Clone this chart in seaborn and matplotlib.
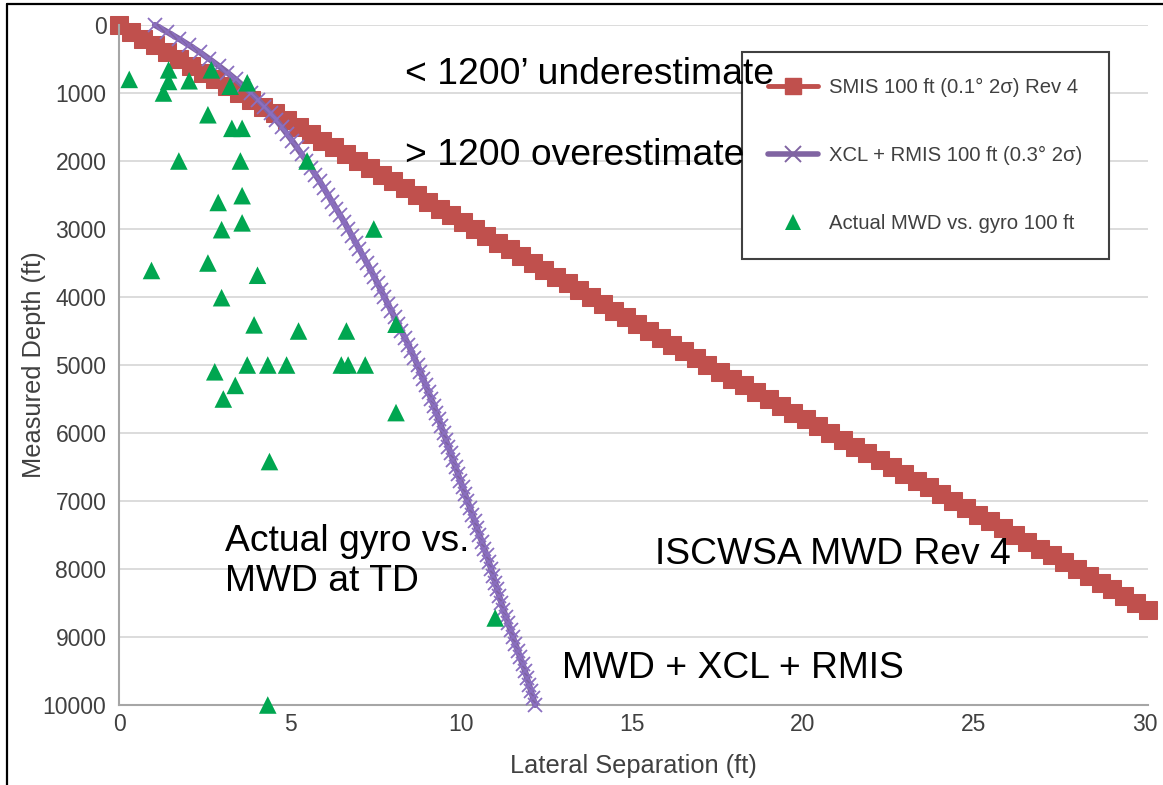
import matplotlib
matplotlib.use("Agg")
import matplotlib.pyplot as plt
from matplotlib.lines import Line2D
import seaborn as sns
import pandas as pd

# SMIS 100 ft (0.1 deg 2-sigma) Rev 4 model: survey stations and lateral separation
smis_depth = [0, 100, 200, 300, 400, 500, 600, 700, 800, 900,
              1000, 1100, 1200, 1300, 1400, 1500, 1600, 1700, 1800, 1900,
              2000, 2100, 2200, 2300, 2400, 2500, 2600, 2700, 2800, 2900,
              3000, 3100, 3200, 3300, 3400, 3500, 3600, 3700, 3800, 3900,
              4000, 4100, 4200, 4300, 4400, 4500, 4600, 4700, 4800, 4900,
              5000, 5100, 5200, 5300, 5400, 5500, 5600, 5700, 5800, 5900,
              6000, 6100, 6200, 6300, 6400, 6500, 6600, 6700, 6800, 6900,
              7000, 7100, 7200, 7300, 7400, 7500, 7600, 7700, 7800, 7900,
              8000, 8100, 8200, 8300, 8400, 8500, 8600]
smis_sep = [0.00, 0.35, 0.70, 1.05, 1.40, 1.75, 2.10, 2.45, 2.80, 3.15,
            3.50, 3.85, 4.20, 4.55, 4.90, 5.25, 5.60, 5.95, 6.30, 6.65,
            7.00, 7.34, 7.68, 8.02, 8.36, 8.70, 9.04, 9.38, 9.72, 10.06,
            10.40, 10.74, 11.08, 11.42, 11.76, 12.10, 12.44, 12.78, 13.12, 13.46,
            13.80, 14.14, 14.48, 14.82, 15.16, 15.50, 15.84, 16.18, 16.52, 16.86,
            17.20, 17.56, 17.92, 18.28, 18.64, 19.00, 19.36, 19.72, 20.08, 20.44,
            20.80, 21.16, 21.52, 21.88, 22.24, 22.60, 22.96, 23.32, 23.68, 24.04,
            24.40, 24.76, 25.12, 25.48, 25.84, 26.20, 26.56, 26.92, 27.28, 27.64,
            28.00, 28.35, 28.70, 29.05, 29.40, 29.75, 30.10]

# XCL + RMIS 100 ft (0.3 deg 2-sigma) model
xcl_depth = [0, 100, 200, 300, 400, 500, 600, 700, 800, 900,
             1000, 1100, 1200, 1300, 1400, 1500, 1600, 1700, 1800, 1900,
             2000, 2100, 2200, 2300, 2400, 2500, 2600, 2700, 2800, 2900,
             3000, 3100, 3200, 3300, 3400, 3500, 3600, 3700, 3800, 3900,
             4000, 4100, 4200, 4300, 4400, 4500, 4600, 4700, 4800, 4900,
             5000, 5100, 5200, 5300, 5400, 5500, 5600, 5700, 5800, 5900,
             6000, 6100, 6200, 6300, 6400, 6500, 6600, 6700, 6800, 6900,
             7000, 7100, 7200, 7300, 7400, 7500, 7600, 7700, 7800, 7900,
             8000, 8100, 8200, 8300, 8400, 8500, 8600, 8700, 8800, 8900,
             9000, 9100, 9200, 9300, 9400, 9500, 9600, 9700, 9800, 9900,
             10000]
xcl_sep = [1.05, 1.40, 1.74, 2.06, 2.36, 2.64, 2.91, 3.17, 3.41, 3.64,
           3.86, 4.06, 4.25, 4.43, 4.60, 4.76, 4.91, 5.06, 5.20, 5.34,
           5.48, 5.61, 5.74, 5.87, 5.99, 6.11, 6.23, 6.35, 6.47, 6.59,
           6.70, 6.81, 6.92, 7.03, 7.14, 7.25, 7.36, 7.46, 7.56, 7.66,
           7.76, 7.86, 7.96, 8.06, 8.16, 8.26, 8.36, 8.46, 8.55, 8.64,
           8.73, 8.81, 8.89, 8.97, 9.05, 9.13, 9.21, 9.28, 9.35, 9.42,
           9.49, 9.56, 9.63, 9.70, 9.77, 9.84, 9.91, 9.98, 10.05, 10.12,
           10.19, 10.26, 10.33, 10.40, 10.47, 10.54, 10.61, 10.68, 10.75, 10.82,
           10.88, 10.94, 11.00, 11.06, 11.12, 11.18, 11.24, 11.31, 11.38, 11.45,
           11.52, 11.59, 11.66, 11.73, 11.80, 11.87, 11.93, 11.99, 12.05, 12.11,
           12.17]

# Actual MWD vs. gyro, 100 ft comparisons
actual_sep = [0.3, 1.45, 1.45, 1.3, 2.05, 2.7, 3.25, 3.75, 2.6, 3.3,
              3.6, 1.75, 3.55, 5.5, 2.9, 3.6, 3.0, 3.6, 7.45, 0.95,
              2.6, 4.05, 3.0, 3.95, 8.1, 5.25, 6.65, 2.8, 3.75, 4.35,
              4.9, 6.5, 6.7, 7.2, 3.4, 3.05, 8.1, 4.4, 11.0, 4.35]
actual_depth = [800, 660, 830, 1000, 820, 660, 900, 850, 1320, 1520,
                1520, 2000, 2000, 2000, 2610, 2510, 3010, 2910, 3000, 3610,
                3500, 3680, 4010, 4410, 4400, 4500, 4500, 5100, 5000, 5000,
                5000, 5000, 5000, 5000, 5300, 5500, 5700, 6420, 8720, 10000]

x_ticks = [0, 5, 10, 15, 20, 25, 30]
y_ticks = [0, 1000, 2000, 3000, 4000, 5000, 6000, 7000, 8000, 9000, 10000]

smis_label = "SMIS 100 ft (0.1° 2σ) Rev 4"
xcl_label = "XCL + RMIS 100 ft (0.3° 2σ)"
actual_label = "Actual MWD vs. gyro 100 ft"

RED = "#C0504D"
PURPLE = "#8064A2"
GREEN = "#00A650"
GRID = "#D9D9D9"
AXIS_GRAY = "#A6A6A6"
TEXT_GRAY = "#404040"

sns.set_theme(style="white")
plt.rcParams["font.family"] = ["Liberation Sans", "DejaVu Sans"]

W, H = 1163, 785
fig = plt.figure(figsize=(W / 100, H / 100), dpi=100)
ax = fig.add_axes([119 / W, 1 - 705 / H, (1148.4 - 119) / W, (705 - 25) / H])

smis_df = pd.DataFrame({"sep": smis_sep, "depth": smis_depth})
xcl_df = pd.DataFrame({"sep": xcl_sep, "depth": xcl_depth})
act_df = pd.DataFrame({"sep": actual_sep, "depth": actual_depth})

sns.lineplot(data=smis_df, x="sep", y="depth", sort=False, estimator=None,
             color=RED, linewidth=3, marker="s", markersize=12.5,
             markeredgecolor=RED, markerfacecolor=RED, ax=ax, zorder=2,
             clip_on=False)
sns.lineplot(data=xcl_df, x="sep", y="depth", sort=False, estimator=None,
             color=PURPLE, linewidth=4.4, marker="x", markersize=10.5,
             markeredgewidth=1.3, markeredgecolor="#8A6FC0", ax=ax, zorder=3,
             clip_on=False)
sns.scatterplot(data=act_df, x="sep", y="depth", marker="^", s=160,
                color=GREEN, edgecolor="none", linewidth=0, ax=ax, zorder=4,
                clip_on=False)

ax.set_xlim(0, 30.1)
ax.set_ylim(10000, 0)
ax.set_xticks(x_ticks)
ax.set_yticks(y_ticks)
ax.set_xticklabels([str(t) for t in x_ticks])
ax.set_yticklabels([str(t) for t in y_ticks])
ax.tick_params(axis="both", length=0, labelsize=16.5, labelcolor=TEXT_GRAY)
ax.tick_params(axis="x", pad=6)
ax.tick_params(axis="y", pad=9)

ax.grid(axis="y", color=GRID, linewidth=1.3)
ax.grid(axis="x", visible=False)
ax.set_axisbelow(True)
for side in ("top", "right"):
    ax.spines[side].set_visible(False)
for side in ("left", "bottom"):
    ax.spines[side].set_color(AXIS_GRAY)
    ax.spines[side].set_linewidth(1.5)

ax.set_xlabel("Lateral Separation (ft)", fontsize=18.3, color=TEXT_GRAY, labelpad=13)
ax.set_ylabel("Measured Depth (ft)", fontsize=18.3, color=TEXT_GRAY, labelpad=-2)

# legend
handles = [
    Line2D([], [], color=RED, linewidth=3.5, marker="s", markersize=11,
           markeredgecolor=RED),
    Line2D([], [], color=PURPLE, linewidth=4, marker="x", markersize=12,
           markeredgewidth=1.4),
    Line2D([], [], color=GREEN, linestyle="none", marker="^", markersize=12,
           markeredgewidth=0),
]
leg = ax.legend(handles, [smis_label, xcl_label, actual_label],
                loc="upper left", bbox_to_anchor=(742 / W, 1 - 52 / H),
                bbox_transform=fig.transFigure, fontsize=14.6, frameon=True,
                fancybox=False, framealpha=1, edgecolor="#404040",
                borderpad=1.3, labelspacing=2.4, handlelength=2.45,
                handletextpad=0.55, borderaxespad=0)
leg.get_frame().set_linewidth(1.5)
for t in leg.get_texts():
    t.set_color(TEXT_GRAY)
leg.set_zorder(5)

# annotations
ann_kw = dict(fontsize=26.8, color="black", va="center", ha="left", zorder=6)
ax.text(8.36, 735, "< 1200’ underestimate", **ann_kw)
ax.text(8.36, 1912, "> 1200 overestimate", **ann_kw)
ax.text(3.1, 7890, "Actual gyro vs.\nMWD at TD", linespacing=1.15, **ann_kw)
ax.text(15.67, 7794, "ISCWSA MWD Rev 4", **ann_kw)
ax.text(12.95, 9456, "MWD + XCL + RMIS", **ann_kw)

# outer frame along the top and left edges
fig.add_artist(Line2D([7 / W, 1.0], [1 - 4 / H, 1 - 4 / H], color="black",
                      linewidth=1.6, transform=fig.transFigure))
fig.add_artist(Line2D([7 / W, 7 / W], [0.0, 1 - 4 / H], color="black",
                      linewidth=1.6, transform=fig.transFigure))

fig.savefig("out.png", dpi=100)
